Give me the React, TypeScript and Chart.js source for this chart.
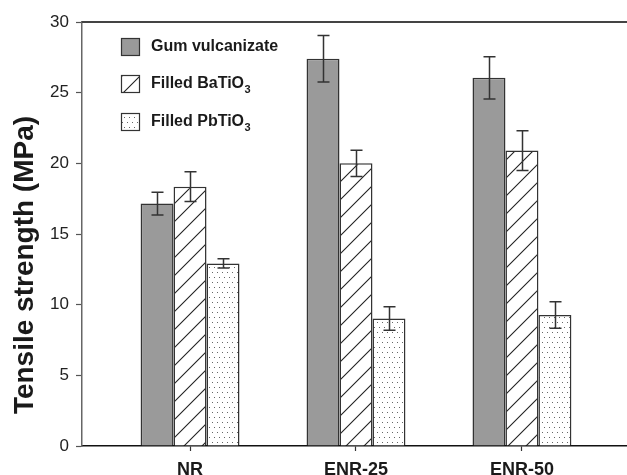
import React, { useEffect, useRef } from 'react';
import { Chart, registerables } from 'chart.js';

Chart.register(...registerables);

const categories = ['NR', 'ENR-25', 'ENR-50'];
const gumValues = [17.15, 27.4, 26.05];
const gumErrors = [0.8, 1.65, 1.5];
const baTiO3Values = [18.35, 20.0, 20.9];
const baTiO3Errors = [1.05, 0.93, 1.4];
const pbTiO3Values = [12.92, 9.02, 9.27];
const pbTiO3Errors = [0.32, 0.83, 0.93];
const seriesNames = ['Gum vulcanizate', 'Filled BaTiO|3', 'Filled PbTiO|3'];
const yTickValues = [0, 5, 10, 15, 20, 25, 30];
const yTitle = 'Tensile strength (MPa)';

const FONT = "Arial, 'Liberation Sans', Helvetica, sans-serif";

function makeHatch(): CanvasPattern | string {
  const c = document.createElement('canvas');
  const s = 18;
  c.width = s;
  c.height = s;
  const g = c.getContext('2d');
  if (!g) return '#fff';
  g.fillStyle = '#ffffff';
  g.fillRect(0, 0, s, s);
  g.strokeStyle = '#222';
  g.lineWidth = 1.1;
  g.beginPath();
  g.moveTo(-2, s + 2);
  g.lineTo(s + 2, -2);
  g.moveTo(-2, 2);
  g.lineTo(2, -2);
  g.moveTo(s - 2, s + 2);
  g.lineTo(s + 2, s - 2);
  g.stroke();
  return g.createPattern(c, 'repeat') as CanvasPattern;
}

function makeDots(): CanvasPattern | string {
  const c = document.createElement('canvas');
  c.width = 10;
  c.height = 10;
  const g = c.getContext('2d');
  if (!g) return '#fff';
  g.fillStyle = '#ffffff';
  g.fillRect(0, 0, 10, 10);
  g.fillStyle = '#666';
  g.fillRect(2, 2, 1, 1);
  g.fillRect(7, 2, 1, 1);
  g.fillRect(4, 7, 1, 1);
  g.fillRect(9, 7, 1, 1);
  return g.createPattern(c, 'repeat') as CanvasPattern;
}

export default function App() {
  const ref = useRef<HTMLCanvasElement | null>(null);

  useEffect(() => {
    const canvas = ref.current;
    if (!canvas) return;
    const hatch = makeHatch();
    const dots = makeDots();
    const fills = ['#9a9a9a', hatch, dots];
    const errors = [gumErrors, baTiO3Errors, pbTiO3Errors];
    const values = [gumValues, baTiO3Values, pbTiO3Values];

    const errorBars = {
      id: 'errorBars',
      afterDatasetsDraw(chart: any) {
        const ctx = chart.ctx;
        const ys = chart.scales.y;
        ctx.save();
        ctx.strokeStyle = '#333';
        ctx.lineWidth = 1.5;
        values.forEach((vals, i) => {
          const meta = chart.getDatasetMeta(i);
          meta.data.forEach((el: any, j: number) => {
            const x = Math.round(el.x) + 0.5;
            const top = ys.getPixelForValue(vals[j] + errors[i][j]);
            const bot = ys.getPixelForValue(vals[j] - errors[i][j]);
            ctx.beginPath();
            ctx.moveTo(x, top);
            ctx.lineTo(x, bot);
            ctx.moveTo(x - 6, top);
            ctx.lineTo(x + 6, top);
            ctx.moveTo(x - 6, bot);
            ctx.lineTo(x + 6, bot);
            ctx.stroke();
          });
        });
        ctx.restore();
      },
    };

    const decorations = {
      id: 'decorations',
      afterDraw(chart: any) {
        const ctx = chart.ctx;
        const ca = chart.chartArea;
        ctx.save();
        ctx.strokeStyle = '#444';
        ctx.lineWidth = 2;
        ctx.beginPath();
        ctx.moveTo(ca.left, ca.top);
        ctx.lineTo(ca.right, ca.top);
        ctx.stroke();

        ctx.save();
        ctx.translate(25, 265);
        ctx.rotate(-Math.PI / 2);
        ctx.font = `bold 28px ${FONT}`;
        ctx.fillStyle = '#1a1a1a';
        ctx.textAlign = 'center';
        ctx.textBaseline = 'middle';
        ctx.fillText(yTitle, 0, 0);
        ctx.restore();

        const boxX = 121;
        const boxW = 19;
        const boxH = 18;
        const textX = 151;
        const rowY = [47, 84, 122];
        seriesNames.forEach((name, i) => {
          const cy = rowY[i];
          const by = cy - boxH / 2;
          ctx.fillStyle = fills[i];
          ctx.fillRect(boxX, by, boxW, boxH);
          ctx.strokeStyle = '#333';
          ctx.lineWidth = 1.2;
          ctx.strokeRect(boxX + 0.5, by + 0.5, boxW - 1, boxH - 1);
          const [main, sub] = name.split('|');
          ctx.fillStyle = '#1a1a1a';
          ctx.textAlign = 'left';
          ctx.textBaseline = 'middle';
          ctx.font = `bold 16px ${FONT}`;
          ctx.fillText(main, textX, cy);
          if (sub) {
            const w = ctx.measureText(main).width;
            ctx.font = `bold 11px ${FONT}`;
            ctx.fillText(sub, textX + w + 0.5, cy + 6);
          }
        });
        ctx.restore();
      },
    };

    const chart = new Chart(canvas, {
      type: 'bar',
      data: {
        datasets: values.map((vals, i) => ({
          label: seriesNames[i].replace('|', ''),
          data: vals.map((v, j) => ({ x: j, y: v })),
          backgroundColor: fills[i] as any,
          borderColor: '#333',
          borderWidth: 1.5,
          barPercentage: 1,
          categoryPercentage: 0.596,
        })),
      },
      options: {
        animation: false,
        responsive: false,
        devicePixelRatio: 1,
        layout: { padding: { top: 22, right: 0, left: 0, bottom: 0 } },
        plugins: {
          legend: { display: false },
          tooltip: { enabled: false },
        },
        scales: {
          x: {
            type: 'linear',
            min: -0.651,
            max: 2.633,
            offset: false,
            afterBuildTicks: (scale: any) => {
              scale.ticks = categories.map((_, i) => ({ value: i }));
            },
            afterFit: (scale: any) => {
              scale.height = 29;
            },
            grid: {
              display: true,
              offset: false,
              drawOnChartArea: false,
              drawTicks: true,
              tickLength: 5,
              tickColor: '#333',
              tickWidth: 1.2,
            },
            border: { display: true, color: '#111', width: 1.5 },
            ticks: {
              padding: 8,
              color: '#1a1a1a',
              font: { family: FONT, size: 18, weight: 'bold' },
              callback: (v: any) => categories[v as number] ?? '',
              maxRotation: 0,
              autoSkip: false,
            },
          },
          y: {
            type: 'linear',
            min: 0,
            max: 30,
            afterBuildTicks: (scale: any) => {
              scale.ticks = yTickValues.map((v) => ({ value: v }));
            },
            afterFit: (scale: any) => {
              scale.width = 82;
            },
            grid: {
              display: true,
              drawOnChartArea: false,
              drawTicks: true,
              tickLength: 6,
              tickColor: '#555',
              tickWidth: 1.2,
            },
            border: { display: true, color: '#666', width: 1.5 },
            ticks: {
              padding: 7,
              color: '#222',
              font: { family: FONT, size: 17 },
              stepSize: 5,
            },
          },
        },
      },
      plugins: [errorBars, decorations],
    } as any);

    return () => chart.destroy();
  }, []);

  return (
    <div style={{ position: 'absolute', left: 0, top: 0, width: 627, height: 475, background: '#fff' }}>
      <canvas ref={ref} width={627} height={475} style={{ display: 'block', width: 627, height: 475 }} />
    </div>
  );
}
